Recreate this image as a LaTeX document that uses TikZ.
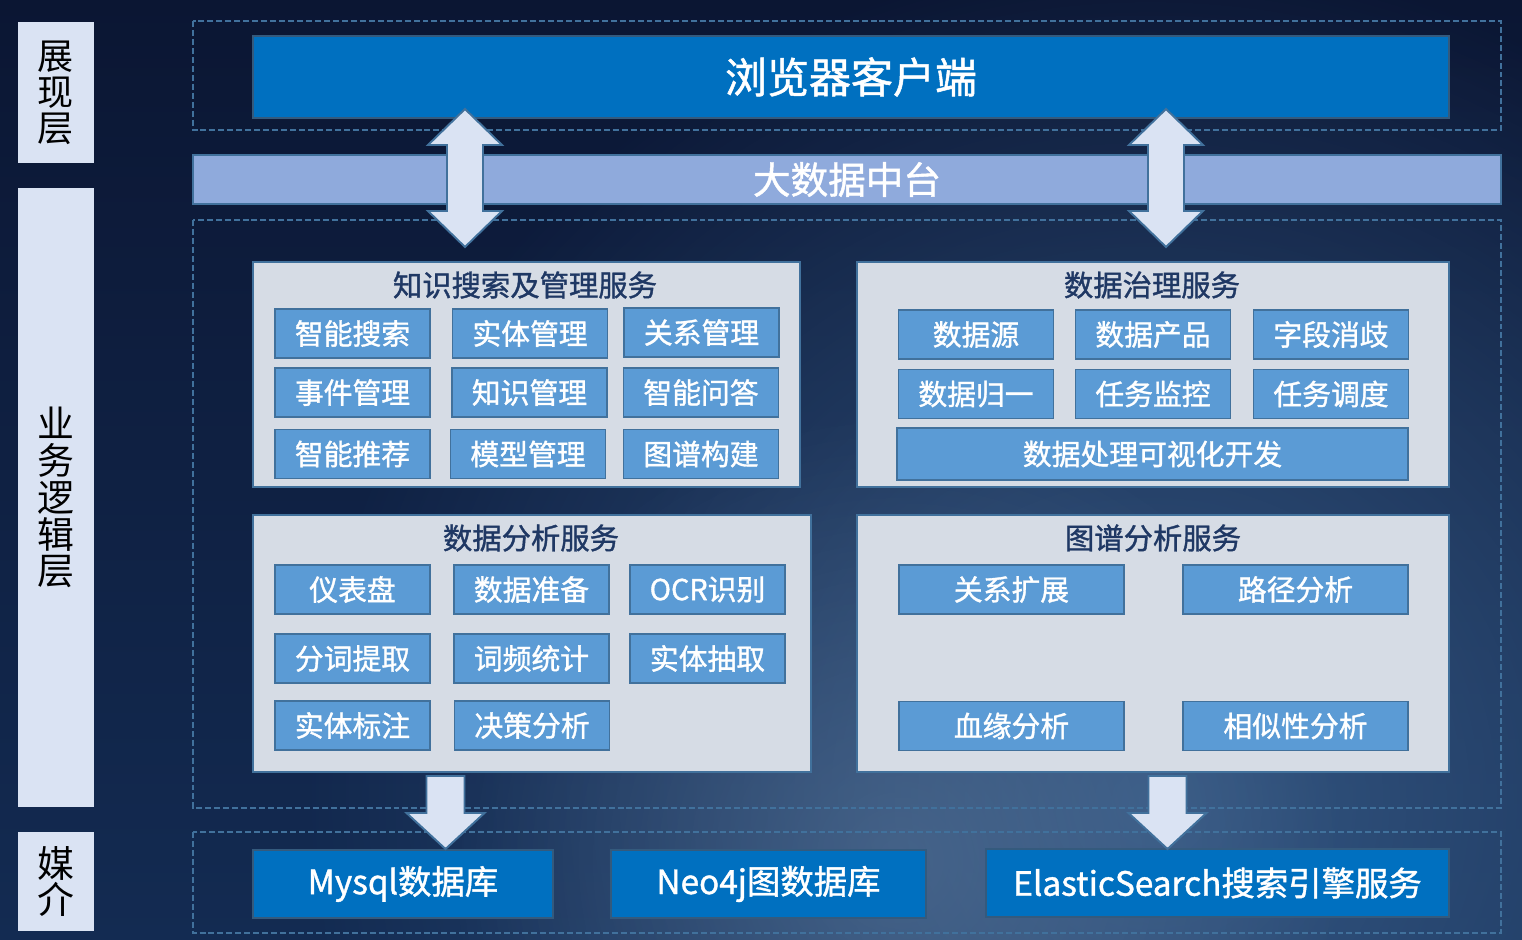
\documentclass[tikz,border=0pt]{standalone}
\usepackage{fontspec}
\setmainfont{Noto Sans CJK SC}
\newfontfamily\heavycjk{Noto Sans CJK SC}[FakeBold=1.2]
\usetikzlibrary{positioning,calc,fadings}
\tikzfading[name=glowfade, inner color=transparent!0, outer color=transparent!100]
\definecolor{bgtop}{HTML}{0B1633}
\definecolor{bgbot}{HTML}{132B52}
\definecolor{earth}{HTML}{3D6390}
\definecolor{edgeblue}{HTML}{41719C}
\definecolor{clientblue}{HTML}{0070C0}
\definecolor{barblue}{HTML}{8FAADC}
\definecolor{panelgray}{HTML}{D6DCE5}
\definecolor{itemblue}{HTML}{5B9BD5}
\definecolor{paleblue}{HTML}{DAE3F3}
\definecolor{titlenavy}{HTML}{1F3864}
\tikzset{layerlab/.style={fill=paleblue, text=black, align=center, inner sep=0, minimum width=1.52cm, font=\fontsize{20.5}{20.5}\selectfont}}
\tikzset{dashbox/.style={draw=edgeblue, line width=0.8pt, dash pattern=on 3.4pt off 1.7pt}}
\tikzset{client/.style={fill=clientblue, draw=edgeblue!80!black, line width=1.1pt, text=white, inner sep=0}}
\tikzset{panel/.style={fill=panelgray, draw=edgeblue, line width=1.2pt, inner sep=0}}
\tikzset{ptitle/.style={text=titlenavy, inner sep=0, font=\heavycjk\fontsize{16.7}{17}\selectfont}}
\tikzset{item/.style={fill=itemblue, draw=edgeblue, line width=1.1pt, text=white, inner sep=0, minimum width=3.1cm, minimum height=0.98cm, font=\heavycjk\fontsize{16.4}{17}\selectfont}}
\tikzset{wideitem/.style={item, minimum width=4.5cm}}
\tikzset{bigarrow/.style={fill=paleblue, draw=edgeblue, line width=1.1pt, line join=miter}}
% double block arrow: x, top tip, bottom tip
\newcommand{\dblarrow}[3]{%
  \draw[bigarrow] (#1,#2) -- (#1+37,#2+36) -- (#1+18,#2+36) -- (#1+18,#3-36) -- (#1+37,#3-36)
    -- (#1,#3) -- (#1-37,#3-36) -- (#1-18,#3-36) -- (#1-18,#2+36) -- (#1-37,#2+36) -- cycle;}
% down block arrow: x, shaft top, tip
\newcommand{\dnarrow}[3]{%
  \draw[bigarrow] (#1-19,#2) -- (#1+19,#2) -- (#1+19,#3-36) -- (#1+39,#3-36) -- (#1,#3)
    -- (#1-39,#3-36) -- (#1-19,#3-36) -- cycle;}

\begin{document}
\begin{tikzpicture}[x=0.02cm, y=-0.02cm]
	\useasboundingbox (0,0) rectangle (1522,940);
	% background
	\shade[top color=bgtop, bottom color=bgbot] (0,0) rectangle (1522,940);
	\begin{scope}
		\clip (0,0) rectangle (1522,940);
		\fill[earth, opacity=0.8, path fading=glowfade] (1150,800) circle (850);
		\fill[earth!70!white, opacity=0.35, path fading=glowfade] (900,860) circle (450);
	\end{scope}
	
	% layer labels
	\node[layerlab, minimum height=2.82cm] (show) at (56,92.5) {展\\现\\层};
	\node[layerlab, minimum height=12.38cm, font=\fontsize{21}{21}\selectfont] (logic) at (56,497.5) {业\\务\\逻\\辑\\层};
	\node[layerlab, minimum height=1.98cm, font=\fontsize{21}{21}\selectfont] (media) at (56,881.5) {媒\\介};
	
	% dashed layer frames
	\draw[dashbox] (193,21) rectangle (1501,130);
	\draw[dashbox] (193,220) rectangle (1501,808);
	\draw[dashbox] (193,832) rectangle (1501,933);
	
	% top
	\node[client, minimum width=23.92cm, minimum height=1.64cm, font=\heavycjk\fontsize{23.9}{24}\selectfont] (browser) at (851,77) {浏览器客户端};
	\node[fill=barblue, draw=edgeblue, line width=1.1pt, text=white, inner sep=0, minimum width=26.16cm, minimum height=0.98cm, font=\heavycjk\fontsize{21.4}{22}\selectfont] (mid) at (847,179.5) {大数据中台};
	
	% knowledge services
	\node[panel, minimum width=10.94cm, minimum height=4.5cm] (know) at (526.5,374.5) {};
	\node[ptitle] (knowt) at (525,285) {知识搜索及管理服务};
	\node[item] (k1) at (352.5,333.5) {智能搜索};
	\node[item] (k2) at (530,333.5) {实体管理};
	\node[item] (k3) at (701.5,332.5) {关系管理};
	\node[item] (k4) at (352.5,392.5) {事件管理};
	\node[item] (k5) at (529.5,392.5) {知识管理};
	\node[item] (k6) at (701,392.5) {智能问答};
	\node[item] (k7) at (352.5,454) {智能推荐};
	\node[item] (k8) at (528,454) {模型管理};
	\node[item] (k9) at (701,454) {图谱构建};
	
	% governance services
	\node[panel, minimum width=11.84cm, minimum height=4.5cm] (gov) at (1153,374.5) {};
	\node[ptitle] (govt) at (1152,285) {数据治理服务};
	\node[item] (g1) at (976,334.5) {数据源};
	\node[item] (g2) at (1153,334.5) {数据产品};
	\node[item] (g3) at (1331,334.5) {字段消歧};
	\node[item] (g4) at (976,394) {数据归一};
	\node[item] (g5) at (1153,394) {任务监控};
	\node[item] (g6) at (1331,394) {任务调度};
	\node[item, minimum width=10.22cm, minimum height=1.04cm] (g7) at (1152.5,454) {数据处理可视化开发};
	
	% analysis services
	\node[panel, minimum width=11.16cm, minimum height=5.14cm] (ana) at (532,643.5) {};
	\node[ptitle] (anat) at (531,538) {数据分析服务};
	\node[item] (a1) at (352.5,589.5) {仪表盘};
	\node[item] (a2) at (531.5,589.5) {数据准备};
	\node[item] (a3) at (707.5,589.5) {OCR识别};
	\node[item] (a4) at (352.5,658.5) {分词提取};
	\node[item] (a5) at (531.5,658.5) {词频统计};
	\node[item] (a6) at (707.5,658.5) {实体抽取};
	\node[item] (a7) at (352.5,725.5) {实体标注};
	\node[item] (a8) at (532,725.5) {决策分析};
	
	% graph services
	\node[panel, minimum width=11.84cm, minimum height=5.14cm] (graph) at (1153,643.5) {};
	\node[ptitle] (grapht) at (1153,538) {图谱分析服务};
	\node[wideitem] (r1) at (1011.5,589.5) {关系扩展};
	\node[wideitem] (r2) at (1295.5,589.5) {路径分析};
	\node[wideitem] (r3) at (1011.5,726) {血缘分析};
	\node[wideitem] (r4) at (1295.5,726) {相似性分析};
	
	% storage
	\node[client, minimum width=6cm, minimum height=1.36cm, font=\heavycjk\fontsize{19}{20}\selectfont] (mysql) at (403,884) {Mysql数据库};
	\node[client, minimum width=6.3cm, minimum height=1.36cm, font=\heavycjk\fontsize{19}{20}\selectfont] (neo) at (768.5,884) {Neo4j图数据库};
	\node[client, minimum width=9.26cm, minimum height=1.36cm, font=\heavycjk\fontsize{19}{20}\selectfont] (es) at (1217.5,883) {ElasticSearch搜索引擎服务};
	
	% block arrows
	\dblarrow{465}{109}{247}
	\dblarrow{1166}{109}{247}
	\dnarrow{445.5}{776}{849}
	\dnarrow{1167.5}{776}{849}
\end{tikzpicture}
\end{document}
